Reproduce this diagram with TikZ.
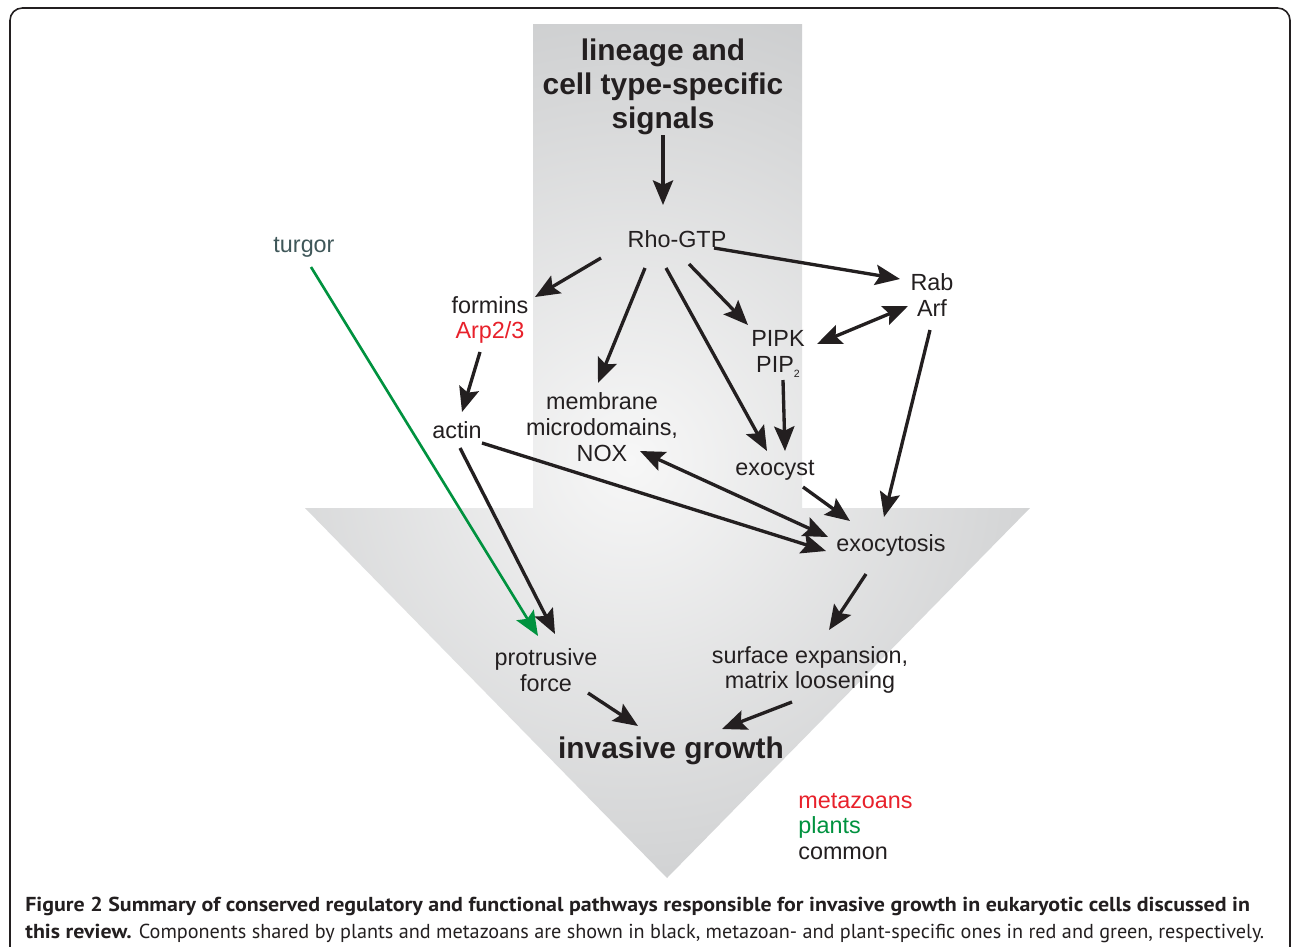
\documentclass[tikz,border=0pt]{standalone}
\usepackage{fontspec}
\setmainfont{Liberation Sans}
\newfontfamily\capfont[BoldFeatures={FakeStretch=1.086}]{PT Sans}
\usetikzlibrary{arrows.meta,calc}
\definecolor{ink}{HTML}{231F20}
\definecolor{redc}{HTML}{E8212B}
\definecolor{greenc}{HTML}{00923F}
\definecolor{turg}{HTML}{3F5759}
\definecolor{outerg}{HTML}{B1B3B5}
\definecolor{innerg}{HTML}{F7F7F7}
\tikzset{
  lbl/.style={inner sep=0pt, text=ink, font=\fontsize{13.3}{14.7}\selectfont, align=center},
  ttl/.style={inner sep=0pt, text=ink, font=\fontsize{17}{19.3}\selectfont\bfseries, align=center},
  arr/.style={draw=ink, line width=1.9pt, -{Stealth[length=14pt, width=11.5pt, inset=2.5pt]}},
  darr/.style={draw=ink, line width=1.9pt, {Stealth[length=14pt, width=11.5pt, inset=2.5pt]}-{Stealth[length=14pt, width=11.5pt, inset=2.5pt]}},
  garr/.style={draw=greenc, line width=1.5pt, -{Stealth[length=14pt, width=11.5pt, inset=2.5pt]}},
  captxt/.style={inner sep=0pt, text=ink, font=\capfont\fontsize{11.5}{13}\selectfont, anchor=base west},
}
\begin{document}
\begin{tikzpicture}[x=0.02cm,y=-0.02cm]
\useasboundingbox (0,0) rectangle (1292,947);
\fill[white] (0,0) rectangle (1292,947);
% frame
\draw[ink, line width=0.9pt, rounded corners=7pt] (10,1000) -- (10,8) -- (1290,8) -- (1290,1000);
% big arrow with radial shading
\begin{scope}
  \clip (533,24) -- (802,24) -- (802,508) -- (1030,508) -- (667,878) -- (305,508) -- (533,508) -- cycle;
  \shade[inner color=innerg, outer color=outerg] (630,460) circle (780);
\end{scope}
% nodes
\node[ttl] (title) at (663,87) {lineage and\\cell type-specific\\signals};
\node[lbl] (rho) at (677,239) {Rho-GTP};
\node[lbl, text=turg] (turgor) at (304,247) {turgor};
\node[lbl] (formins) at (490,320) {formins\\\textcolor{redc}{Arp2/3}};
\node[lbl] (rabarf) at (932,295) {Rab\\Arf};
\node[lbl] (pipk) at (778,354) {PIPK\\PIP\raisebox{-0.35ex}{\fontsize{6}{6}\selectfont 2}};
\node[lbl] (membrane) at (602,427) {membrane\\microdomains,\\NOX};
\node[lbl] (actin) at (457,430) {actin};
\node[lbl] (exocyst) at (775,470) {exocyst};
\node[lbl] (exocytosis) at (891,545) {exocytosis};
\node[lbl] (protrusive) at (546,670) {protrusive\\force};
\node[lbl] (surface) at (810,670) {surface expansion,\\matrix loosening};
\node[ttl] (invasive) at (671,751) {invasive growth};
\node[lbl, anchor=west, text=redc] (meta) at (798,801) {metazoans};
\node[lbl, anchor=west, text=greenc] (plants) at (798,827) {plants};
\node[lbl, anchor=west] (common) at (798,853) {common};
% connectors
\draw[arr] ($(title)+(0,48)$) -- ($(rho)+(-14,-34)$);
\draw[arr] ($(rho)+(-76,19)$) -- ($(formins)+(45,-23)$);
\draw[arr] ($(rho)+(-32,29)$) -- ($(membrane)+(-4,-44)$);
\draw[arr] ($(rho)+(-11,29)$) -- ($(exocyst)+(-8,-19)$);
\draw[arr] ($(rho)+(12,25)$) -- ($(pipk)+(-30,-29)$);
\draw[arr] ($(rho)+(37,9)$) -- ($(rabarf)+(-32,-16)$);
\draw[darr] ($(pipk)+(39,-10)$) -- ($(rabarf)+(-24,11)$);
\draw[arr] ($(pipk)+(5,26)$) -- ($(exocyst)+(10,-19)$);
\draw[arr] ($(rabarf)+(-2,35)$) -- ($(exocytosis)+(-7,-28)$);
\draw[arr] ($(formins)+(-10,32)$) -- ($(actin)+(5,-18)$);
\draw[arr] ($(actin)+(25,13)$) -- ($(exocytosis)+(-65,6)$);
\draw[darr] ($(membrane)+(38,24)$) -- ($(exocytosis)+(-63,-8)$);
\draw[arr] ($(exocyst)+(28,17)$) -- ($(exocytosis)+(-41,-24)$);
\draw[arr] ($(actin)+(3,18)$) -- ($(protrusive)+(9,-36)$);
\draw[garr] ($(turgor)+(7,20)$) -- ($(protrusive)+(-8,-34)$);
\draw[arr] ($(exocytosis)+(-25,29)$) -- ($(surface)+(19,-40)$);
\draw[arr] ($(protrusive)+(42,23)$) -- ($(invasive)+(-33,-25)$);
\draw[arr] ($(surface)+(-18,32)$) -- ($(invasive)+(51,-22)$);
% caption
\node[captxt] (cap1) at (25,911) {\textbf{Figure 2 Summary of conserved regulatory and functional pathways responsible for invasive growth in eukaryotic cells discussed in}};
\node[captxt] (cap2) at (25,938) {\textbf{this review.} Components shared by plants and metazoans are shown in black, metazoan- and plant-specific ones in red and green, respectively.};
\end{tikzpicture}
\end{document}
